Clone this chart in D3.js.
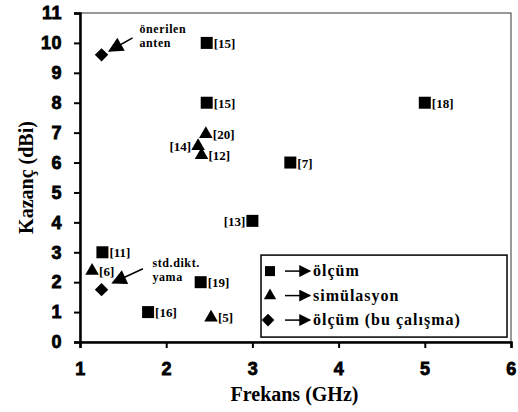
<!DOCTYPE html>
<html>
<head>
<meta charset="utf-8">
<script src="https://cdn.jsdelivr.net/npm/d3@7"></script>
<style>
  body { margin: 0; background: #fff; }
  svg { display: block; }
</style>
</head>
<body>
<svg id="chart" width="518" height="412"></svg>
<script>
// Dades
const olcum = [
  { f: 2.47, g: 10.0, ref: "[15]", side: "r" },
  { f: 2.47, g: 8.0, ref: "[15]", side: "r" },
  { f: 5.0, g: 8.0, ref: "[18]", side: "r" },
  { f: 3.44, g: 6.0, ref: "[7]", side: "r" },
  { f: 3.0, g: 4.05, ref: "[13]", side: "l" },
  { f: 1.26, g: 3.0, ref: "[11]", side: "r" },
  { f: 2.4, g: 2.0, ref: "[19]", side: "r" },
  { f: 1.79, g: 1.0, ref: "[16]", side: "r" }
];
const simulasyon = [
  { f: 2.46, g: 6.95, ref: "[20]", side: "r" },
  { f: 2.37, g: 6.55, ref: "[14]", side: "l" },
  { f: 2.41, g: 6.25, ref: "[12]", side: "r" },
  { f: 1.14, g: 2.38, ref: "[6]", side: "r" },
  { f: 2.52, g: 0.82, ref: "[5]", side: "r" }
];
const buCalisma = [
  { f: 1.25, g: 9.6 },
  { f: 1.25, g: 1.75 }
];
const xTicks = [1, 2, 3, 4, 5, 6];
const yTicks = [0, 1, 2, 3, 4, 5, 6, 7, 8, 9, 10, 11];
const notlar = [
  { lines: ["önerilen", "anten"], from: [1.61, 10.17], to: [1.34, 9.73], text: [1.69, 10.33] },
  { lines: ["std.dikt.", "yama"], from: [1.73, 2.45], to: [1.38, 1.98], text: [1.84, 2.5] }
];
const legendItems = [
  { shape: "square", label: "ölçüm" },
  { shape: "triangle", label: "simülasyon" },
  { shape: "diamond", label: "ölçüm (bu çalışma)" }
];

const margin = { top: 13, right: 7, bottom: 70, left: 80 },
      width = 518 - margin.left - margin.right,
      height = 412 - margin.top - margin.bottom;

const svg = d3.select("#chart")
  .append("g")
  .attr("transform", `translate(${margin.left},${margin.top})`);

const x = d3.scaleLinear().domain([1, 6]).range([0, width]);
const y = d3.scaleLinear().domain([0, 11]).range([height, 0]);

// Marc (dalt i dreta)
svg.append("rect")
  .attr("x", 0).attr("y", 0)
  .attr("width", width).attr("height", height)
  .attr("fill", "none").attr("stroke", "#333").attr("stroke-width", 1);

const sansBold = "'Liberation Sans', Arial, sans-serif";
const serif = "'Liberation Serif', 'Times New Roman', serif";

// Eixos
const gx = svg.append("g")
  .attr("transform", `translate(0,${height})`)
  .call(d3.axisBottom(x).tickValues(xTicks).tickFormat(d3.format("d")).tickSizeOuter(0).tickSize(6));
const gy = svg.append("g")
  .call(d3.axisLeft(y).tickValues(yTicks).tickFormat(d3.format("d")).tickSizeOuter(0).tickSize(6));

[gx, gy].forEach(g => {
  g.select(".domain").attr("stroke", "#000").attr("stroke-width", 2.5);
  g.selectAll(".tick line").attr("stroke", "#000").attr("stroke-width", 2);
  g.selectAll(".tick text")
    .attr("font-family", sansBold).attr("font-weight", "bold")
    .attr("font-size", "18px").attr("fill", "#000")
    .attr("stroke", "#000").attr("stroke-width", 0.8)
    .attr("letter-spacing", "0.5px");
});
gx.selectAll(".tick text").attr("y", 20);
gy.selectAll(".tick text").attr("x", -18);

// Títols
svg.append("text")
  .attr("x", width / 2 - 1).attr("y", height + 59)
  .attr("text-anchor", "middle")
  .attr("font-family", serif).attr("font-weight", "bold").attr("font-size", "20px")
  .text("Frekans (GHz)");
svg.append("text")
  .attr("transform", "rotate(-90)")
  .attr("x", -height / 2).attr("y", -47)
  .attr("text-anchor", "middle")
  .attr("font-family", serif).attr("font-weight", "bold").attr("font-size", "20px")
  .text("Kazanç (dBi)");

// Marcadors
const shapePath = {
  square: d3.symbol().type(d3.symbolSquare).size(144)(),
  triangle: d3.symbol().type(d3.symbolTriangle).size(80)(),
  diamond: d3.symbol().type(d3.symbolSquare).size(90)()
};
const shapeRot = { square: 0, triangle: 0, diamond: 45 };

const marks = [
  ...olcum.map(d => ({ ...d, shape: "square" })),
  ...simulasyon.map(d => ({ ...d, shape: "triangle" })),
  ...buCalisma.map(d => ({ ...d, shape: "diamond" }))
];

svg.selectAll(".mark").data(marks).enter().append("path")
  .attr("class", "mark")
  .attr("d", d => shapePath[d.shape])
  .attr("transform", d => `translate(${x(d.f)},${y(d.g)}) rotate(${shapeRot[d.shape]})`)
  .attr("fill", "#000");

// Etiquetes de referència
svg.selectAll(".lbl").data(olcum.concat(simulasyon)).enter().append("text")
  .attr("x", d => x(d.f) + (d.side === "r" ? 7 : -7))
  .attr("y", d => y(d.g) + 5)
  .attr("text-anchor", d => d.side === "r" ? "start" : "end")
  .attr("font-family", serif).attr("font-weight", "bold").attr("font-size", "13px")
  .text(d => d.ref);

// Anotacions amb fletxa
const defs = svg.append("defs");
defs.append("marker")
  .attr("id", "head").attr("viewBox", "0 0 10 10")
  .attr("refX", 9).attr("refY", 5)
  .attr("markerWidth", 14).attr("markerHeight", 12)
  .attr("markerUnits", "userSpaceOnUse")
  .attr("orient", "auto")
  .append("path").attr("d", "M0,0 L10,5 L0,10 Z").attr("fill", "#000");
defs.append("marker")
  .attr("id", "bighead").attr("viewBox", "0 0 10 10")
  .attr("refX", 9).attr("refY", 5)
  .attr("markerWidth", 17).attr("markerHeight", 15)
  .attr("markerUnits", "userSpaceOnUse")
  .attr("orient", "auto")
  .append("path").attr("d", "M0,0 L10,5 L0,10 Z").attr("fill", "#000");

notlar.forEach(n => {
  svg.append("line")
    .attr("x1", x(n.from[0])).attr("y1", y(n.from[1]))
    .attr("x2", x(n.to[0])).attr("y2", y(n.to[1]))
    .attr("stroke", "#000").attr("stroke-width", 1.5)
    .attr("marker-end", "url(#bighead)");
  const t = svg.append("text")
    .attr("x", x(n.text[0])).attr("y", y(n.text[1]))
    .attr("font-family", serif).attr("font-weight", "bold").attr("font-size", "12px")
    .attr("letter-spacing", "0.6px");
  n.lines.forEach((l, i) => t.append("tspan")
    .attr("x", x(n.text[0])).attr("dy", i === 0 ? 0 : 14).text(l));
});

// Llegenda
const lg = svg.append("g").attr("transform", `translate(${x(3.1)},${y(1.0) - 57})`);
lg.append("rect")
  .attr("width", 246).attr("height", 82)
  .attr("fill", "#fff").attr("stroke", "#000").attr("stroke-width", 1.5);
legendItems.forEach((it, i) => {
  const row = lg.append("g").attr("transform", `translate(0,${16 + i * 24.5})`);
  row.append("path")
    .attr("d", it.shape === "triangle"
      ? d3.symbol().type(d3.symbolTriangle).size(65)()
      : d3.symbol().type(d3.symbolSquare).size(it.shape === "diamond" ? 80 : 100)())
    .attr("transform", `translate(${it.shape === "diamond" ? 7 : 9},0) rotate(${shapeRot[it.shape]})`)
    .attr("fill", "#000");
  row.append("line").attr("x1", 24).attr("x2", 49).attr("y1", 0).attr("y2", 0)
    .attr("stroke", "#000").attr("stroke-width", 1.5).attr("marker-end", "url(#head)");
  row.append("text").attr("x", 52).attr("y", 5)
    .attr("font-family", serif).attr("font-weight", "bold").attr("font-size", "16px")
    .attr("letter-spacing", "1px")
    .text(it.label);
});
</script>
</body>
</html>
